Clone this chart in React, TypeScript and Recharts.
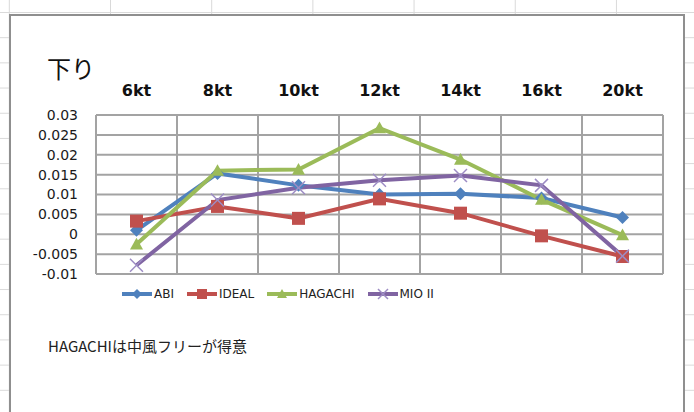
import { CartesianGrid, Legend, Line, LineChart, XAxis, YAxis } from "recharts";

const categories = ["6kt", "8kt", "10kt", "12kt", "14kt", "16kt", "20kt"];
const abi = [0.001, 0.0153, 0.0123, 0.01, 0.0102, 0.0091, 0.0042];
const ideal = [0.0033, 0.007, 0.004, 0.0089, 0.0053, -0.0004, -0.0056];
const hagachi = [-0.0025, 0.016, 0.0163, 0.0267, 0.0188, 0.0087, -0.0002];
const mio = [-0.0078, 0.0086, 0.0117, 0.0136, 0.0148, 0.0123, -0.0055];
const yTicks = [-0.01, -0.005, 0, 0.005, 0.01, 0.015, 0.02, 0.025, 0.03];

const data = categories.map((name, i) => ({
  x: i,
  name,
  abi: abi[i],
  ideal: ideal[i],
  hagachi: hagachi[i],
  mio: mio[i]
}));

const xTicks = categories.map((_, i) => i);
// vertical grid lines sit between categories, like Excel
const gridTicks = [...xTicks.map((i) => i - 0.5), categories.length - 0.5];

type Shape = "diamond" | "square" | "triangle" | "cross";

const series: { key: string; name: string; color: string; shape: Shape }[] = [
  { key: "abi", name: "ABI", color: "#4f81bd", shape: "diamond" },
  { key: "ideal", name: "IDEAL", color: "#c0504d", shape: "square" },
  { key: "hagachi", name: "HAGACHI", color: "#9bbb59", shape: "triangle" },
  { key: "mio", name: "MIO II", color: "#8064a2", shape: "cross" }
];

function Marker({ cx, cy, shape, color, size }: { cx: number; cy: number; shape: Shape; color: string; size: number }) {
  const r = size / 2;
  if (shape === "diamond") {
    return <polygon points={`${cx},${cy - r} ${cx + r},${cy} ${cx},${cy + r} ${cx - r},${cy}`} fill={color} />;
  }
  if (shape === "square") {
    return <rect x={cx - r} y={cy - r} width={size} height={size} fill={color} />;
  }
  if (shape === "triangle") {
    return <polygon points={`${cx},${cy - r} ${cx + r},${cy + r * 0.8} ${cx - r},${cy + r * 0.8}`} fill={color} />;
  }
  return (
    <g stroke="#9d8cc4" strokeWidth={1.5}>
      <line x1={cx - r} y1={cy - r} x2={cx + r} y2={cy + r} />
      <line x1={cx - r} y1={cy + r} x2={cx + r} y2={cy - r} />
    </g>
  );
}

function LegendRow() {
  return (
    <div style={{ display: "flex", alignItems: "center", fontFamily: "DejaVu Sans", fontSize: 12, color: "#222" }}>
      {series.map((s) => (
        <div key={s.key} style={{ display: "flex", alignItems: "center", marginRight: 13 }}>
          <svg width={30} height={14}>
            <line x1={0} y1={7} x2={30} y2={7} stroke={s.color} strokeWidth={4} />
            <Marker cx={15} cy={7} shape={s.shape} color={s.color} size={10} />
          </svg>
          <span style={{ marginLeft: 2 }}>{s.name}</span>
        </div>
      ))}
    </div>
  );
}

export default function App() {
  return (
    <div
      style={{
        position: "absolute",
        left: 0,
        top: 0,
        width: 694,
        height: 412,
        overflow: "hidden",
        backgroundColor: "#fff",
        backgroundImage:
          "linear-gradient(to right, #d9d9d9 1px, transparent 1px), linear-gradient(to bottom, #d9d9d9 1px, transparent 1px)",
        backgroundSize: "101.2px 25.2px",
        backgroundPosition: "110px 12px"
      }}
    >
      <div
        style={{
          position: "absolute",
          left: 9,
          top: 14,
          width: 672,
          height: 420,
          background: "#fff",
          border: "2px solid #8f8f8f"
        }}
      />
      <div style={{ position: "absolute", left: 0, top: 0 }}>
        <LineChart width={694} height={412} data={data} margin={{ top: 75, right: 31, bottom: 138, left: 0 }}>
          <CartesianGrid xAxisId="grid" stroke="#a3a3a3" strokeWidth={2} />
          <XAxis
            xAxisId="grid"
            type="number"
            dataKey="x"
            domain={[-0.5, categories.length - 0.5]}
            ticks={gridTicks}
            hide
          />
          <XAxis
            type="number"
            dataKey="x"
            orientation="top"
            domain={[-0.5, categories.length - 0.5]}
            ticks={xTicks}
            interval={0}
            height={40}
            tickFormatter={(v: number) => categories[v]}
            axisLine={false}
            tickLine={false}
            tickSize={0}
            tickMargin={19}
            tick={{ fontFamily: "DejaVu Sans", fontSize: 16, fontWeight: "bold", fill: "#111" }}
          />
          <YAxis
            type="number"
            domain={[-0.01, 0.03]}
            ticks={yTicks}
            interval={0}
            width={96}
            axisLine={false}
            tickLine={false}
            tickSize={0}
            tickMargin={18}
            tickFormatter={(v: number) => String(v)}
            tick={{ fontFamily: "DejaVu Sans", fontSize: 14, fill: "#1a1a1a" }}
          />
          {series.map((s) => (
            <Line
              key={s.key}
              dataKey={s.key}
              name={s.name}
              stroke={s.color}
              strokeWidth={4}
              isAnimationActive={false}
              dot={(p: any) => (
                <Marker key={`${s.key}-${p.index}`} cx={p.cx} cy={p.cy} shape={s.shape} color={s.color} size={13} />
              )}
              activeDot={false}
            />
          ))}
          <Legend
            layout="horizontal"
            verticalAlign="middle"
            align="center"
            wrapperStyle={{ left: 122, top: 287, width: 360, height: 18 }}
            content={() => <LegendRow />}
          />
        </LineChart>
      </div>
      <svg width={694} height={412} style={{ position: "absolute", left: 0, top: 0, pointerEvents: "none" }}>
        <text x={47} y={78} fontFamily="Noto Sans CJK JP" fontSize={24} fill="#111">
          下り
        </text>
        <text x={48} y={352} fontFamily="Noto Sans CJK JP" fontSize={15} fill="#222">
          HAGACHIは中風フリーが得意
        </text>
      </svg>
    </div>
  );
}
